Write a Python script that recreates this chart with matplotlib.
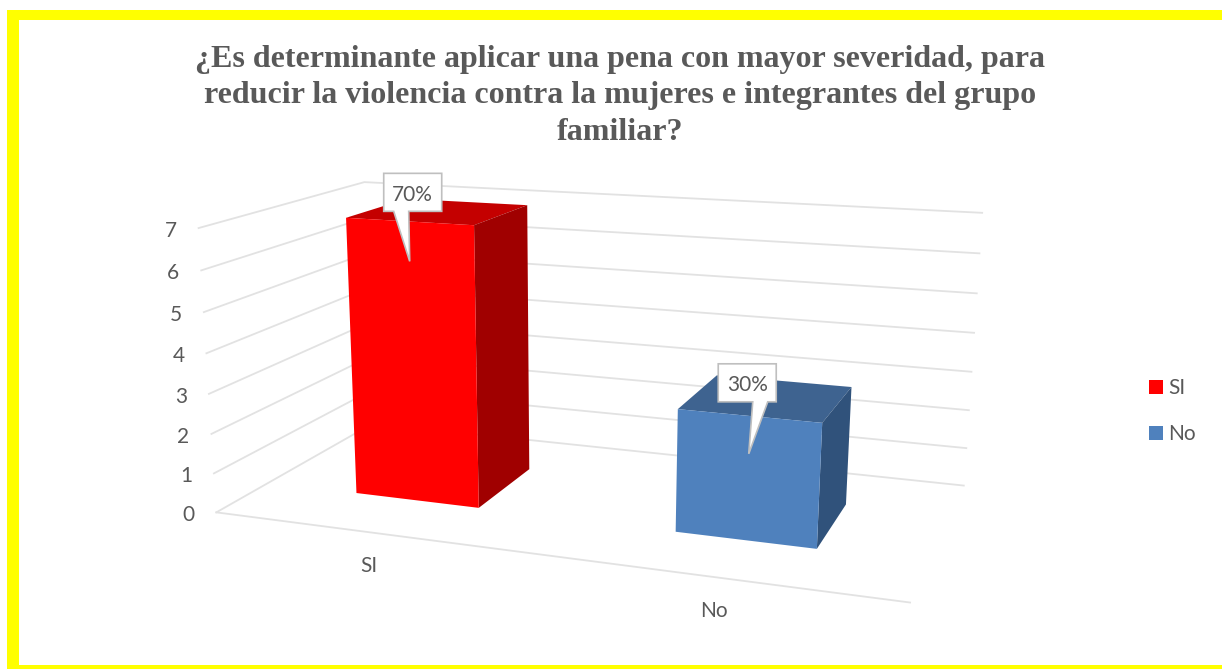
import numpy as np
import matplotlib
matplotlib.use("Agg")
import matplotlib.pyplot as plt
from matplotlib.patches import Polygon, Rectangle

title = "¿Es determinante aplicar una pena con mayor severidad, para\nreducir la violencia contra la mujeres e integrantes del grupo\nfamiliar?"
categories = ["SI", "No"]
values = [7, 3]
labels = ["70%", "30%"]
y_ticks = [0, 1, 2, 3, 4, 5, 6, 7]

FRONT = ["#FF0000", "#4F81BD"]
TOP = ["#C40000", "#3E6390"]
SIDE = ["#A00000", "#30527B"]
GREY = "#595959"
GRID = "#E2E2E2"
FS = 15.0

# callout placement relative to the projected bar-top centre (pixels)
BOX_OFFSET = [(-26, -19), (-19.5, -15)]
TIP_OFFSET = [(-29, 50), (-18, 56)]
POINTER_BASE = [-16, 4]

W, H = 1222, 669
fig = plt.figure(figsize=(W / 100, H / 100), dpi=100)
ax = fig.add_axes([0, 0, 1, 1])
ax.set_xlim(0, W)
ax.set_ylim(H, 0)
ax.axis("off")

# camera: (category, depth, value) -> pixel, fitted to the box corners
world = [(0, 0, 0), (0, 0, 7), (2, 0, 0), (0, 1, 0), (0, 1, 7), (2, 1, 0), (2, 1, 7)]
pix = [(217, 512), (198, 228), (910, 603), (372, 424), (365, 182), (964, 485), (982, 213)]
A = []
for (X, Y, Z), (u, v) in zip(world, pix):
    A.append([X, Y, Z, 1, 0, 0, 0, 0, -u * X, -u * Y, -u * Z, -u])
    A.append([0, 0, 0, 0, X, Y, Z, 1, -v * X, -v * Y, -v * Z, -v])
P = np.linalg.svd(np.array(A, float))[2][-1].reshape(3, 4)


def proj(X, Y, Z):
    r = P @ np.array([X, Y, Z, 1.0])
    return r[0] / r[2], r[1] / r[2]


# frame
for x, y, w, h in [(7, 10, W - 7, 10), (7, 10, 12, H - 10), (7, 665, W - 7, 4)]:
    ax.add_patch(Rectangle((x, y), w, h, fc="#FFFF00", ec="none", zorder=1))

# grid
for t in y_ticks:
    pts = [proj(0, 0, t), proj(0, 1, t), proj(2, 1, t)]
    ax.plot(*zip(*pts), color=GRID, lw=1.3, zorder=2, solid_joinstyle="miter")
    x0, y0 = proj(0, 0, t)
    ax.text(x0 - 28, y0 + 3, str(t), ha="center", va="center", fontsize=FS, family="Lato", color=GREY)
ax.plot(*zip(proj(0, 0, 0), proj(2, 0, 0)), color=GRID, lw=1.3, zorder=2)

# bars
BW = 0.2
for i, (v, name) in enumerate(zip(values, categories)):
    x0, x1 = i + 0.5 - BW, i + 0.5 + BW
    y0, y1 = 0.3, 0.7
    ax.add_patch(Polygon([proj(x0, y1, v), proj(x1, y1, v), proj(x1, y0, v), proj(x0, y0, v)], fc=TOP[i], ec="none", zorder=3))
    ax.add_patch(Polygon([proj(x1, y0, 0), proj(x1, y1, 0), proj(x1, y1, v), proj(x1, y0, v)], fc=SIDE[i], ec="none", zorder=3))
    ax.add_patch(Polygon([proj(x0, y0, 0), proj(x1, y0, 0), proj(x1, y0, v), proj(x0, y0, v)], fc=FRONT[i], ec="none", zorder=4))
    cx, cy = proj(i + 0.5, 0, 0)
    ax.text(cx - 2, cy + 33.5, name, ha="center", va="center", fontsize=FS, family="Lato", color=GREY)

    # callout anchored on the bar top
    tx, ty = proj(i + 0.5, 0.5, v)
    bcx, bcy = tx + BOX_OFFSET[i][0], ty + BOX_OFFSET[i][1]
    tip = (tx + TIP_OFFSET[i][0], ty + TIP_OFFSET[i][1])
    bx0, bx1, by0, by1 = bcx - 29, bcx + 29, bcy - 19, bcy + 19
    base = tip[0] + POINTER_BASE[i]
    ax.add_patch(Polygon([(bx0, by0), (bx1, by0), (bx1, by1), (base + 15, by1), tip, (base, by1), (bx0, by1)],
                         fc="white", ec="#BFBFBF", lw=1.2, zorder=6))
    ax.text(bcx, bcy + 2.5, labels[i], ha="center", va="center", fontsize=FS, family="Lato", color=GREY, zorder=7)

ax.text(620, 96, title, ha="center", va="center", fontsize=23.0, family="Liberation Serif", weight="bold", color=GREY, linespacing=1.335)

handles = [Rectangle((0, 0), 1, 1, fc=c, ec="none") for c in FRONT]
leg = ax.legend(handles, categories, loc="upper left", bbox_to_anchor=(1149 / W, 1 - 378 / H), frameon=False,
                prop={"family": "Lato", "size": FS}, labelcolor=GREY, handlelength=0.67, handleheight=0.67,
                handletextpad=0.27, labelspacing=1.25, borderpad=0, borderaxespad=0)

fig.savefig("out.png", dpi=100)
